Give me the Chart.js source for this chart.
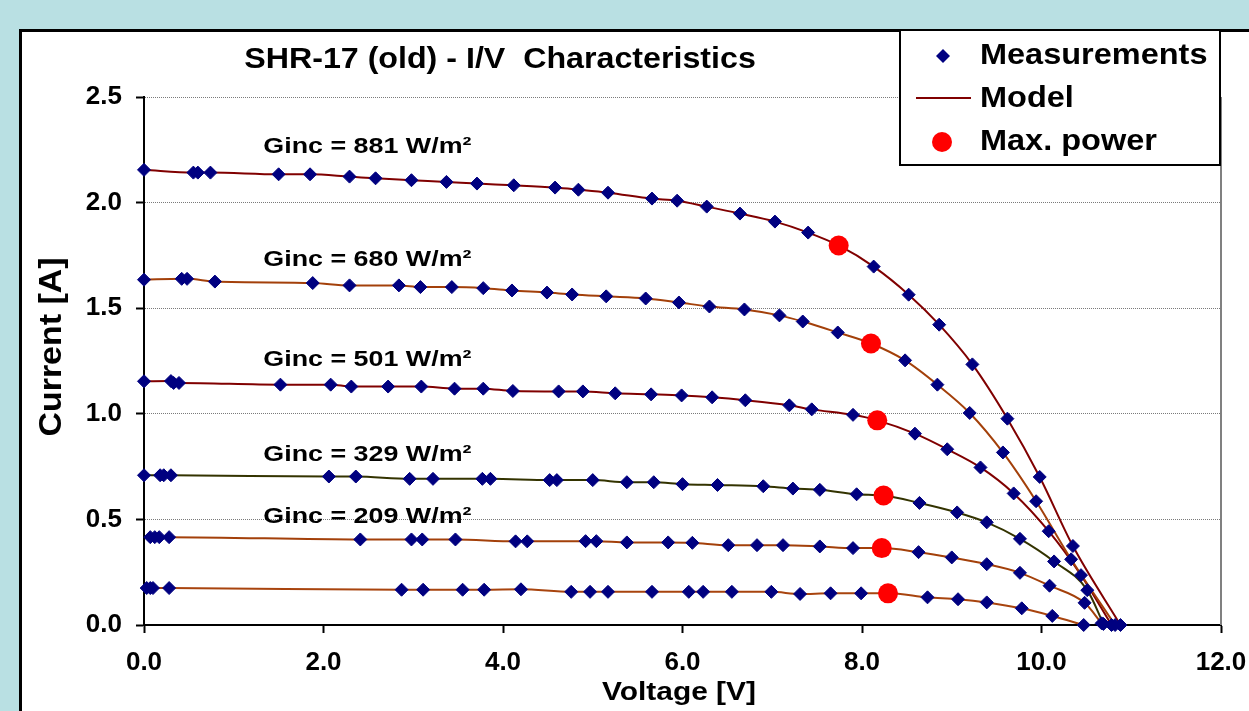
<!DOCTYPE html>
<html><head><meta charset="utf-8">
<script src="https://cdn.jsdelivr.net/npm/chart.js@4.4.1/dist/chart.umd.min.js"></script>
<style>
html,body{margin:0;padding:0;width:1249px;height:711px;overflow:hidden;background:#B9E0E3;}
#panel{position:absolute;left:19px;top:29px;width:1300px;height:800px;background:#fff;border-left:3px solid #000;border-top:3px solid #000;}
#wrap{position:absolute;left:0;top:0;width:1249px;height:711px;}
</style></head><body>
<div id="panel"></div>
<div id="wrap"><canvas id="c" width="1249" height="711"></canvas></div>
<script>
// ---- data (voltage V, current A) ----
const V881 = [0.00,0.55,0.60,0.74,1.50,1.85,2.29,2.58,2.98,3.37,3.71,4.12,4.58,4.84,5.17,5.66,5.94,6.27,6.64,7.03,7.40,8.13,8.52,8.86,9.23,9.62,9.98,10.35,10.88];
const I881 = [2.155,2.142,2.142,2.142,2.134,2.134,2.123,2.115,2.106,2.098,2.090,2.082,2.071,2.061,2.047,2.019,2.009,1.981,1.948,1.910,1.858,1.697,1.564,1.422,1.234,0.977,0.701,0.374,0.000];
const V680 = [0.00,0.42,0.48,0.79,1.88,2.29,2.84,3.08,3.43,3.78,4.10,4.49,4.77,5.15,5.59,5.96,6.30,6.69,7.08,7.34,7.73,8.48,8.84,9.20,9.57,9.94,10.33,10.82];
const I680 = [1.635,1.639,1.639,1.626,1.619,1.608,1.608,1.600,1.600,1.595,1.584,1.574,1.565,1.556,1.546,1.527,1.508,1.494,1.466,1.437,1.385,1.253,1.138,1.004,0.817,0.586,0.311,0.000];
const V501 = [0.00,0.30,0.33,0.39,1.52,2.08,2.31,2.72,3.09,3.46,3.78,4.11,4.62,4.89,5.25,5.65,5.99,6.33,6.70,7.19,7.44,7.90,8.59,8.95,9.32,9.69,10.08,10.44,10.78];
const I501 = [1.154,1.155,1.146,1.146,1.138,1.138,1.129,1.129,1.129,1.119,1.119,1.108,1.106,1.106,1.097,1.092,1.087,1.078,1.064,1.040,1.021,0.995,0.906,0.832,0.746,0.623,0.444,0.236,0.000];
const V329 = [0.00,0.18,0.22,0.30,2.06,2.36,2.96,3.22,3.77,3.86,4.52,4.60,5.00,5.38,5.68,6.00,6.39,6.90,7.23,7.53,7.94,8.64,9.06,9.39,9.76,10.14,10.51,10.69];
const I329 = [0.709,0.709,0.709,0.709,0.703,0.703,0.692,0.692,0.692,0.692,0.686,0.686,0.686,0.676,0.676,0.667,0.663,0.657,0.646,0.640,0.619,0.578,0.533,0.486,0.408,0.301,0.165,0.005];
const V209 = [0.07,0.12,0.17,0.28,2.41,2.98,3.10,3.47,4.14,4.27,4.92,5.04,5.38,5.84,6.11,6.51,6.83,7.12,7.53,7.90,8.63,9.00,9.39,9.76,10.09,10.48,10.67];
const I209 = [0.416,0.416,0.416,0.416,0.405,0.405,0.405,0.405,0.396,0.396,0.397,0.397,0.391,0.391,0.389,0.378,0.378,0.378,0.372,0.364,0.345,0.320,0.288,0.247,0.186,0.105,0.008];
const VLow = [0.03,0.07,0.10,0.28,2.87,3.11,3.55,3.79,4.20,4.76,4.97,5.17,5.66,6.07,6.23,6.55,6.99,7.31,7.65,7.99,8.73,9.07,9.39,9.78,10.12,10.47];
const ILow = [0.175,0.175,0.175,0.175,0.167,0.167,0.167,0.167,0.169,0.157,0.157,0.157,0.157,0.157,0.157,0.157,0.157,0.147,0.150,0.150,0.131,0.122,0.107,0.079,0.043,0.000];
// max power points (one per curve, same order)
const mppV = [7.74, 8.10, 8.17, 8.24, 8.22, 8.29];
const mppI = [1.797, 1.333, 0.969, 0.613, 0.364, 0.150];
// axis ticks
const xTicks = [0,2,4,6,8,10,12];
const yTicks = [0,0.5,1.0,1.5,2.0,2.5];
// curve annotations (text, anchor in data units)
const gincText = ['Ginc = 881 W/m²','Ginc = 680 W/m²','Ginc = 501 W/m²','Ginc = 329 W/m²','Ginc = 209 W/m²'];
const gincAtV = 1.33;
const gincAtI = [2.27, 1.735, 1.262, 0.813, 0.520];
const legendText = ['Measurements','Model','Max. power'];
const titleText = 'SHR-17 (old) - I/V  Characteristics';
const xTitle = 'Voltage [V]';
const yTitle = 'Current [A]';

// ---- styles ----
const curvesV = [V881, V680, V501, V329, V209, VLow];
const curvesI = [I881, I680, I501, I329, I209, ILow];
const lineColors = ['#800000','#A3400A','#800000','#333300','#A3400A','#A8440E'];
const FONT = "'Liberation Sans', Arial, Helvetica, sans-serif";
const MARK = '#000080';

const datasets = [];
curvesV.forEach((vs, k) => {
  const pts = vs.map((v, j) => ({x: v, y: curvesI[k][j]}));
  const model = pts.concat([{x: mppV[k], y: mppI[k]}]).sort((a, b) => a.x - b.x);
  datasets.push({label: 'Model', data: model, showLine: true, borderColor: lineColors[k], borderWidth: 2,
    pointRadius: 0, pointHoverRadius: 0, cubicInterpolationMode: 'monotone', order: 3, clip: false});
  datasets.push({label: 'Measurements', data: pts, showLine: false, pointStyle: 'rectRot', pointRadius: 6.5,
    pointHoverRadius: 6.5, backgroundColor: MARK, borderColor: MARK, borderWidth: 1, order: 2, clip: false});
});
datasets.push({label: 'Max. power', data: mppV.map((v, j) => ({x: v, y: mppI[j]})), showLine: false,
  pointStyle: 'circle', pointRadius: 10, pointHoverRadius: 10, backgroundColor: '#FF0000', borderWidth: 0, order: 1, clip: false});

function sText(ctx, txt, x, yBase, size, sx, align) {
  ctx.save();
  ctx.font = 'bold ' + size + 'px ' + FONT;
  ctx.fillStyle = '#000';
  ctx.textBaseline = 'alphabetic';
  ctx.textAlign = 'left';
  const w = ctx.measureText(txt).width * sx;
  const left = align === 'center' ? x - w / 2 : x;
  ctx.translate(left, yBase);
  ctx.scale(sx, 1);
  ctx.fillText(txt, 0, 0);
  ctx.restore();
}

const decor = {
  id: 'decor',
  beforeDatasetsDraw(chart) {
    const {ctx, chartArea: a} = chart;
    ctx.save();
    ctx.strokeStyle = '#808080';
    ctx.lineWidth = 2;
    ctx.beginPath(); ctx.moveTo(a.right, a.top); ctx.lineTo(a.right, a.bottom); ctx.stroke();
    ctx.restore();
  },
  afterDraw(chart) {
    const {ctx} = chart;
    const xs = chart.scales.x, ys = chart.scales.y;
    // title
    sText(ctx, titleText, 500, 68, 29, 1.11, 'center');
    // curve labels
    gincText.forEach((t, k) => {
      const px = xs.getPixelForValue(gincAtV);
      const py = ys.getPixelForValue(gincAtI[k]);
      sText(ctx, t, px, py + 0.358 * 22, 22, 1.22, 'left');
    });
    // axis titles
    sText(ctx, xTitle, 679, 700, 26, 1.15, 'center');
    ctx.save();
    ctx.translate(61, 347);
    ctx.rotate(-Math.PI / 2);
    sText(ctx, yTitle, 0, 0, 32, 1.06, 'center');
    ctx.restore();
    // legend box
    ctx.save();
    ctx.fillStyle = '#fff';
    ctx.fillRect(899, 29, 321, 136);
    ctx.strokeStyle = '#000';
    ctx.lineWidth = 2;
    ctx.strokeRect(900, 30, 320, 135);
    ctx.fillStyle = MARK;
    ctx.beginPath();
    ctx.moveTo(943, 49); ctx.lineTo(950, 56); ctx.lineTo(943, 63); ctx.lineTo(936, 56); ctx.closePath(); ctx.fill();
    ctx.strokeStyle = lineColors[0];
    ctx.lineWidth = 2;
    ctx.beginPath(); ctx.moveTo(916, 98); ctx.lineTo(971, 98); ctx.stroke();
    ctx.fillStyle = '#FF0000';
    ctx.beginPath(); ctx.arc(942, 142, 10, 0, Math.PI * 2); ctx.fill();
    ctx.restore();
    sText(ctx, legendText[0], 980, 64, 29, 1.12, 'left');
    sText(ctx, legendText[1], 980, 107, 29, 1.12, 'left');
    sText(ctx, legendText[2], 980, 150, 29, 1.12, 'left');
  }
};

new Chart(document.getElementById('c'), {
  type: 'scatter',
  data: {datasets},
  options: {
    responsive: false,
    devicePixelRatio: 1,
    animation: false,
    events: [],
    layout: {padding: {left: 0, right: 28, top: 97, bottom: 0}},
    plugins: {legend: {display: false}, tooltip: {enabled: false}, title: {display: false}},
    scales: {
      x: {
        type: 'linear', min: 0, max: 12,
        afterBuildTicks(s) { s.ticks = xTicks.map(v => ({value: v})); },
        afterFit(s) { s.height = 86; s.paddingLeft = 0; s.paddingRight = 0; },
        ticks: {callback: v => Number(v).toFixed(1), color: '#000', padding: 14,
          font: {family: FONT, size: 26, weight: 'bold'}, maxRotation: 0, autoSkip: false},
        grid: {drawOnChartArea: false, drawTicks: true, tickLength: 8, tickColor: '#000', tickWidth: 2},
        border: {color: '#000', width: 2}
      },
      y: {
        type: 'linear', min: 0, max: 2.5,
        afterBuildTicks(s) { s.ticks = yTicks.map(v => ({value: v})); },
        afterFit(s) { s.width = 144; s.paddingTop = 0; s.paddingBottom = 0; },
        ticks: {callback: v => Number(v).toFixed(1), color: '#000', padding: 14,
          font: {family: FONT, size: 26, weight: 'bold'}},
        grid: {color: c => (c.tick && c.tick.value === 0) ? 'rgba(0,0,0,0)' : '#7a7a7a', lineWidth: 1,
          drawTicks: true, tickLength: 8, tickColor: '#000', tickWidth: 2, tickBorderDash: []},
        border: {color: '#000', width: 2, dash: [1, 1]}
      }
    }
  },
  plugins: [decor]
});
</script></body></html>
